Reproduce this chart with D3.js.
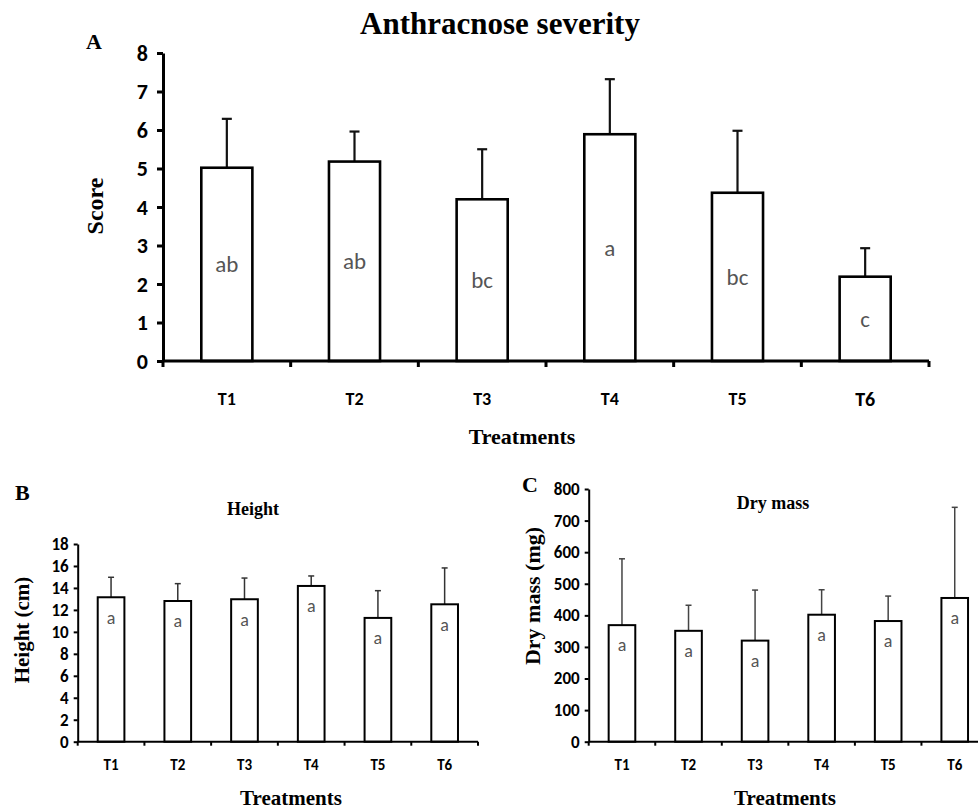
<!DOCTYPE html>
<html>
<head>
<meta charset="utf-8">
<script src="https://cdn.jsdelivr.net/npm/d3@7/dist/d3.min.js"></script>
<style>
  body { margin: 0; background: #fff; }
  svg { display: block; }
  .serif { font-family: "Liberation Serif", "Times New Roman", serif; font-weight: bold; }
  .sans { font-family: Carlito, Lato, "Open Sans", sans-serif; }
</style>
</head>
<body>
<svg id="fig" width="978" height="809"></svg>
<script>
var treatments = ["T1", "T2", "T3", "T4", "T5", "T6"];

// A: anthracnose severity score
var scoreMean = [5.02, 5.18, 4.2, 5.89, 4.37, 2.19];
var scoreErr = [1.27, 0.78, 1.3, 1.43, 1.61, 0.74];
var scoreLetters = ["ab", "ab", "bc", "a", "bc", "c"];
var scoreTicks = [0, 1, 2, 3, 4, 5, 6, 7, 8];

// B: height (cm)
var heightMean = [13.15, 12.81, 12.97, 14.18, 11.27, 12.51];
var heightErr = [1.82, 1.58, 1.93, 0.91, 2.48, 3.31];
var heightLetters = ["a", "a", "a", "a", "a", "a"];
var heightTicks = [0, 2, 4, 6, 8, 10, 12, 14, 16, 18];

// C: dry mass (mg)
var massMean = [369, 351, 320, 402, 382, 455];
var massErr = [210, 81, 160, 79, 79, 287];
var massLetters = ["a", "a", "a", "a", "a", "a"];
var massTicks = [0, 100, 200, 300, 400, 500, 600, 700, 800];

var svg = d3.select("#fig");

function panel(o) {
  var g = svg.append("g");
  var x = d3.scaleBand().domain(treatments).range([o.x0, o.x1])
    .paddingInner(0.6).paddingOuter(0.3);
  var y = d3.scaleLinear().domain([0, o.ymax]).range([o.y0, o.y1]);
  var step = x.step();

  // error bars (up only)
  var eb = g.append("g").attr("stroke", o.errColor).attr("stroke-width", o.errWidth);
  treatments.forEach(function(t, i) {
    var cx = x(t) + x.bandwidth() / 2;
    eb.append("line").attr("x1", cx).attr("x2", cx)
      .attr("y1", y(o.mean[i])).attr("y2", y(o.mean[i] + o.err[i]));
    eb.append("line").attr("x1", cx - o.cap).attr("x2", cx + o.cap)
      .attr("y1", y(o.mean[i] + o.err[i])).attr("y2", y(o.mean[i] + o.err[i]));
  });

  // bars
  g.append("g").selectAll("rect").data(treatments).join("rect")
    .attr("x", function(d) { return x(d); })
    .attr("width", x.bandwidth())
    .attr("y", function(d, i) { return y(o.mean[i]); })
    .attr("height", function(d, i) { return o.y0 - y(o.mean[i]); })
    .attr("fill", "#fff").attr("stroke", "#000").attr("stroke-width", o.barWidth);

  // letters
  g.append("g").selectAll("text").data(treatments).join("text")
    .attr("class", "sans")
    .attr("x", function(d) { return x(d) + x.bandwidth() / 2; })
    .attr("y", function(d, i) {
      return o.midLetters ? (y(o.mean[i]) + o.y0) / 2 : y(o.mean[i]) + o.letterDrop;
    })
    .attr("dy", "0.35em")
    .attr("text-anchor", "middle")
    .attr("fill", "#555").style("font-size", o.letterSize + "px")
    .text(function(d, i) { return o.letters[i]; });

  // y axis
  var ya = g.append("g").attr("transform", "translate(" + o.x0 + ",0)")
    .call(d3.axisLeft(y).tickValues(o.ticks).tickSize(o.tickLen).tickSizeOuter(0).tickPadding(o.tickPad));
  ya.select(".domain").attr("stroke-width", o.axisWidth);
  ya.selectAll(".tick line").attr("stroke-width", o.axisWidth);
  ya.selectAll("text").attr("class", "sans")
    .style("font-size", o.yTickSize + "px").style("font-weight", o.tickWeight);

  // x axis: baseline, edge ticks, centered labels
  var xa = g.append("g").attr("transform", "translate(0," + o.y0 + ")");
  xa.append("line").attr("x1", o.x0).attr("x2", o.x1).attr("stroke", "#000").attr("stroke-width", o.axisWidth);
  d3.range(treatments.length + 1).forEach(function(i) {
    xa.append("line").attr("x1", o.x0 + i * step).attr("x2", o.x0 + i * step)
      .attr("y1", 0).attr("y2", o.tickLen).attr("stroke", "#000").attr("stroke-width", o.axisWidth);
  });
  xa.selectAll("text").data(treatments).join("text")
    .attr("class", "sans")
    .attr("x", function(d) { return x(d) + x.bandwidth() / 2; })
    .attr("y", o.xLabelY - o.y0).attr("dy", "0.35em").attr("text-anchor", "middle")
    .style("font-size", function(d, i) { return (o.bigLast && i === 5 ? o.xTickSize + 2 : o.xTickSize) + "px"; })
    .style("font-weight", o.tickWeight)
    .text(function(d) { return d; });

  // texts
  g.append("text").attr("class", "serif").attr("x", o.title[0]).attr("y", o.title[1])
    .attr("text-anchor", "middle").style("font-size", o.title[2] + "px").text(o.title[3]);
  g.append("text").attr("class", "serif").attr("x", o.letter[0]).attr("y", o.letter[1])
    .style("font-size", o.letter[2] + "px").text(o.letter[3]);
  g.append("text").attr("class", "serif").attr("x", o.xTitle[0]).attr("y", o.xTitle[1])
    .attr("text-anchor", "middle").style("font-size", o.xTitle[2] + "px").text("Treatments");
  g.append("text").attr("class", "serif")
    .attr("transform", "translate(" + o.yTitle[0] + "," + o.yTitle[1] + ") rotate(-90)")
    .attr("text-anchor", "middle").style("font-size", o.yTitle[2] + "px").text(o.yTitle[3]);
}

panel({
  x0: 163, x1: 929, y0: 361, y1: 53, ymax: 8,
  mean: scoreMean, err: scoreErr, letters: scoreLetters, ticks: scoreTicks,
  midLetters: true, letterSize: 23,
  barWidth: 2.6, axisWidth: 3, errWidth: 2.2, errColor: "#111", cap: 5,
  tickLen: 6, tickPad: 9, yTickSize: 22, xTickSize: 18, tickWeight: "bold", xLabelY: 399, bigLast: true,
  title: [500, 34, 31, "Anthracnose severity"],
  letter: [86, 49, 22, "A"],
  xTitle: [522, 444, 22],
  yTitle: [103, 206, 24, "Score"]
});

panel({
  x0: 77.7, x1: 478, y0: 741.7, y1: 544, ymax: 18,
  mean: heightMean, err: heightErr, letters: heightLetters, ticks: heightTicks,
  midLetters: false, letterDrop: 20, letterSize: 18,
  barWidth: 2, axisWidth: 2, errWidth: 1.5, errColor: "#333", cap: 3,
  tickLen: 4, tickPad: 5, yTickSize: 17, xTickSize: 15, tickWeight: "600", xLabelY: 765, bigLast: false,
  title: [253, 515, 18, "Height"],
  letter: [15, 500, 22, "B"],
  xTitle: [291, 805, 21],
  yTitle: [29, 630, 21, "Height (cm)"]
});

panel({
  x0: 588.7, x1: 988, y0: 741.7, y1: 489, ymax: 800,
  mean: massMean, err: massErr, letters: massLetters, ticks: massTicks,
  midLetters: false, letterDrop: 20, letterSize: 18,
  barWidth: 2, axisWidth: 2, errWidth: 1.5, errColor: "#444", cap: 3,
  tickLen: 4, tickPad: 5, yTickSize: 17, xTickSize: 15, tickWeight: "600", xLabelY: 765, bigLast: false,
  title: [773, 509, 18, "Dry mass"],
  letter: [522, 492, 22, "C"],
  xTitle: [785, 805, 21],
  yTitle: [540, 596, 22, "Dry mass (mg)"]
});
</script>
</body>
</html>
